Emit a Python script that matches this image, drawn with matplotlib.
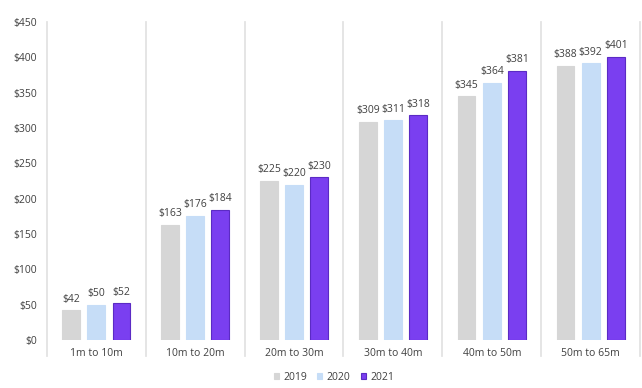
import matplotlib.pyplot as plt
import numpy as np

categorias = ['1m to 10m', '10m to 20m', '20m to 30m', '30m to 40m', '40m to 50m', '50m to 65m']
anios = ['2019', '2020', '2021']
v2019 = [42, 163, 225, 309, 345, 388]
v2020 = [50, 176, 220, 311, 364, 392]
v2021 = [52, 184, 230, 318, 381, 401]
yticks = [0, 50, 100, 150, 200, 250, 300, 350, 400, 450]

plt.rcParams['font.family'] = ['Open Sans', 'DejaVu Sans']
texto = '#404040'

fig = plt.figure(figsize=(6.42, 3.88), dpi=100)
ax = fig.add_axes([0.073, 0.124, 0.924, 0.819])

x = np.arange(len(categorias))
series = [v2019, v2020, v2021]
colores = ['#d6d6d6', '#c6ddf7', '#7a3ff0']
bordes = ['#d6d6d6', '#c6ddf7', '#5b2bc4']
offs = [-0.255, 0.0, 0.255]

for vals, c, e, o, lab in zip(series, colores, bordes, offs, anios):
    bars = ax.bar(x + o, vals, width=0.18, color=c, edgecolor=e, linewidth=0.8, label=lab)
    for b, v in zip(bars, vals):
        ax.annotate(f'${v}', (b.get_x() + b.get_width() / 2, v), xytext=(0, 4),
                    textcoords='offset points', ha='center', va='bottom',
                    fontsize=7.5, color=texto)

# separadores verticales entre grupos
for s in np.arange(-0.5, len(categorias), 1.0):
    ax.plot([s, s], [-0.05, 1.0], transform=ax.get_xaxis_transform(),
            color='#e3e3e3', lw=1.3, clip_on=False, zorder=0)

ax.set_xlim(-0.5, len(categorias) - 0.5)
ax.set_ylim(0, 450)
ax.set_yticks(yticks)
ax.set_yticklabels([f'${t}' for t in yticks], fontsize=7.5, color=texto)
ax.set_xticks(x)
ax.set_xticklabels(categorias, fontsize=7.5, color=texto)
ax.tick_params(length=0, pad=6)
ax.tick_params(axis='y', pad=7)
for sp in ax.spines.values():
    sp.set_visible(False)

fig.legend(loc='center', bbox_to_anchor=(0.52, 0.028), ncol=3, frameon=False,
           fontsize=7.5, handlelength=0.5, handleheight=0.5, handletextpad=0.4,
           columnspacing=1.0, labelcolor=texto)

fig.savefig('out.png', dpi=100)
